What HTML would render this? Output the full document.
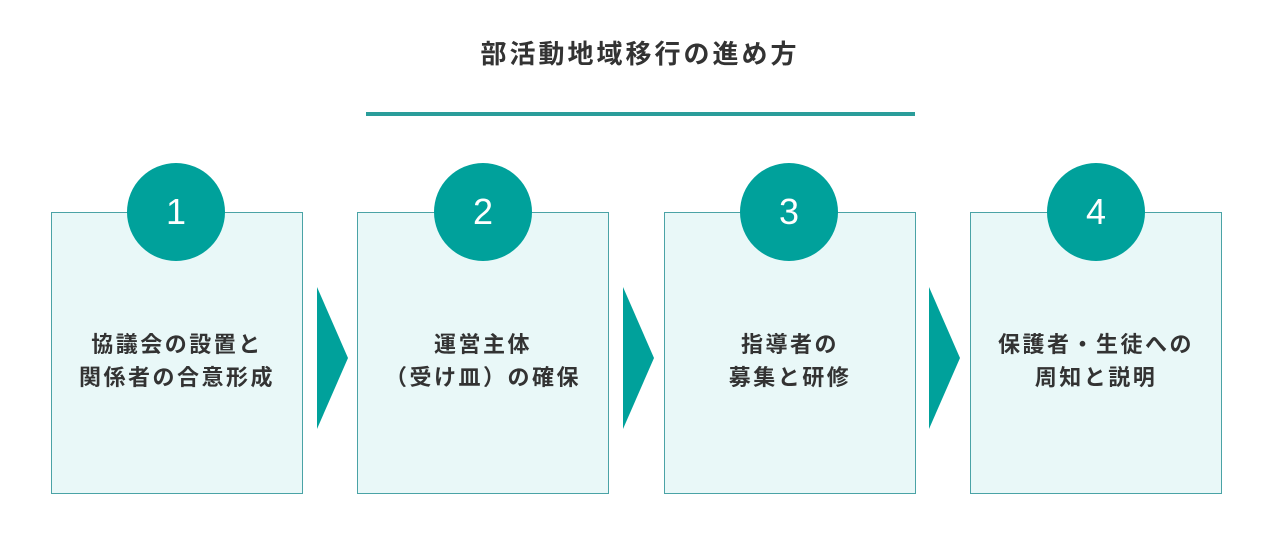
<!DOCTYPE html>
<html><head><meta charset="utf-8"><style>
body{margin:0;width:1280px;height:550px;background:#fff;position:relative;overflow:hidden;font-family:"Liberation Sans","Noto Sans CJK JP",sans-serif;}
.t{position:absolute;left:0;width:1280px;top:34px;text-align:center;font-size:26px;letter-spacing:3px;font-weight:bold;color:#333;}
.line{position:absolute;left:366px;top:112px;width:549px;height:4px;background:#2a9d9a;}
.box{position:absolute;top:212px;width:250px;height:280px;background:#e9f8f8;border:1px solid #4aa3a6;}
.c{position:absolute;top:163px;width:98px;height:98px;border-radius:50%;background:#00a19b;color:#fff;font-size:36px;text-align:center;line-height:98px;}
.lab{position:absolute;top:328px;width:252px;text-align:center;font-size:22px;letter-spacing:2.5px;font-weight:bold;color:#333;line-height:33px;}
svg{position:absolute;left:0;top:0;}
</style></head><body>
<div class="t">部活動地域移行の進め方</div>
<div class="line"></div>
<div class="box" style="left:51px"></div>
<div class="box" style="left:357px"></div>
<div class="box" style="left:664px"></div>
<div class="box" style="left:970px"></div>
<div class="c" style="left:127px">1</div>
<div class="c" style="left:434px">2</div>
<div class="c" style="left:740px">3</div>
<div class="c" style="left:1047px">4</div>
<div class="lab" style="left:51px">協議会の設置と<br>関係者の合意形成</div>
<div class="lab" style="left:357px">運営主体<br>（受け皿）の確保</div>
<div class="lab" style="left:664px">指導者の<br>募集と研修</div>
<div class="lab" style="left:970px">保護者・生徒への<br>周知と説明</div>
<svg width="1280" height="550">
<polygon points="317,287 348,358 317,429" fill="#00a19b"/>
<polygon points="623,287 654,358 623,429" fill="#00a19b"/>
<polygon points="929,287 960,358 929,429" fill="#00a19b"/>
</svg>
</body></html>
